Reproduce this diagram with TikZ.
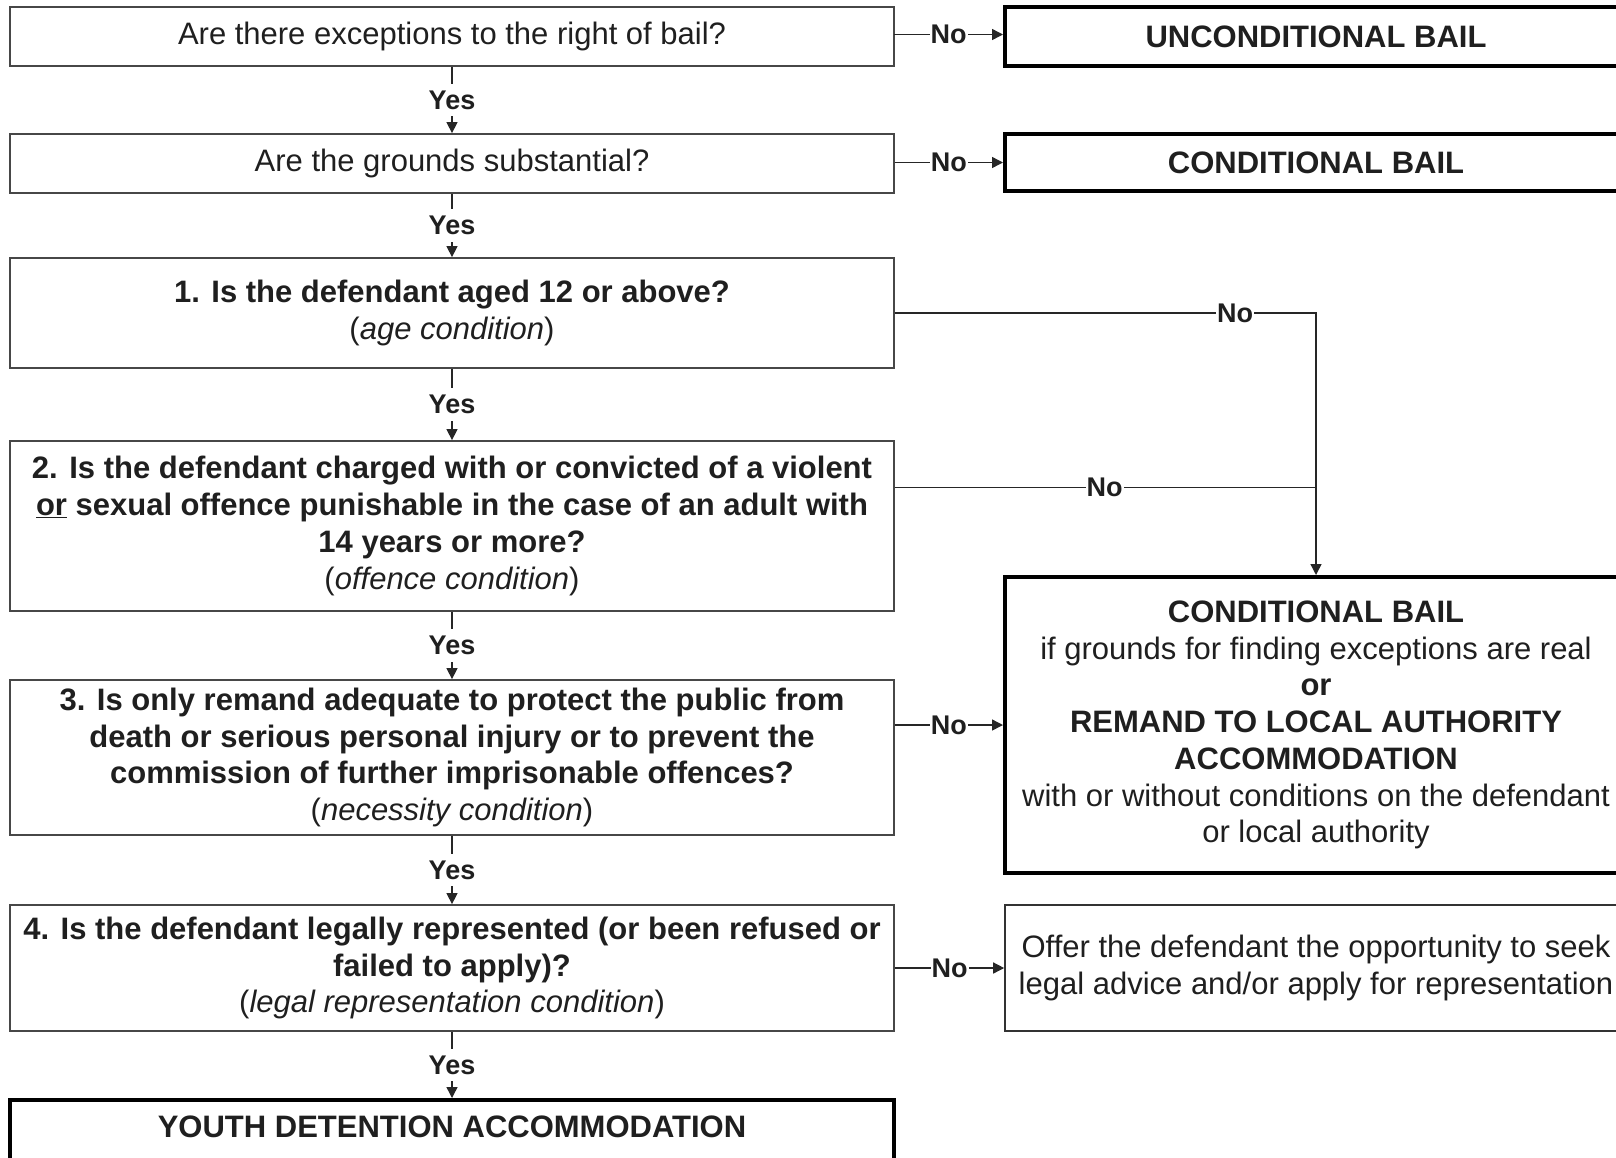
\documentclass[tikz,border=0pt]{standalone}
\usepackage{fontspec}
\setmainfont{Liberation Sans}
\usetikzlibrary{arrows.meta}
\begin{document}
\begin{tikzpicture}[x=1pt,y=-1pt,
  every node/.style={font=\fontsize{31}{36.7}\selectfont, text=black!88},
  qbox/.style={draw=black!72, line width=1.8pt, minimum width=884pt, align=center, inner sep=0pt},
  tbox/.style={draw=black, line width=4pt, minimum width=622pt, align=center, inner sep=0pt, font=\bfseries\fontsize{31}{36.7}\selectfont},
  obox/.style={draw=black!80, line width=1.6pt, minimum width=622pt, align=center, inner sep=0pt},
  conn/.style={draw=black!85, line width=1.4pt},
  arr/.style={conn, -{Triangle[length=11pt,width=11pt]}},
  lbl/.style={fill=white, inner xsep=1pt, inner ysep=1pt, font=\bfseries\fontsize{27}{30}\selectfont},
  ylbl/.style={fill=white, inner xsep=2pt, inner ysep=7pt, font=\bfseries\fontsize{27}{30}\selectfont}
]
\useasboundingbox (0,0) rectangle (1616,1157);

% left column
\node[qbox, minimum height=59pt] (B1) at (452,36.5) {Are there exceptions to the right of bail?};
\node[qbox, minimum height=59pt] (B2) at (452,163.5) {Are the grounds substantial?};
\node[qbox, minimum height=110pt] (B3) at (452,313) {\textbf{1. Is the defendant aged 12 or above?}\\(\textit{age condition})};
\node[qbox, minimum height=170pt] (B4) at (452,526) {\textbf{2. Is the defendant charged with or convicted of a violent}\\\textbf{\underline{or} sexual offence punishable in the case of an adult with}\\\textbf{14 years or more?}\\(\textit{offence condition})};
\node[qbox, minimum height=155pt] (B5) at (452,757.5) {\textbf{3. Is only remand adequate to protect the public from}\\\textbf{death or serious personal injury or to prevent the}\\\textbf{commission of further imprisonable offences?}\\(\textit{necessity condition})};
\node[qbox, minimum height=126pt] (B6) at (452,968) {\textbf{4. Is the defendant legally represented (or been refused or}\\\textbf{failed to apply)?}\\(\textit{legal representation condition})};
\node[draw=black, line width=4pt, minimum width=884pt, inner sep=0pt, text height=37pt, text depth=28pt, anchor=base, font=\bfseries\fontsize{31}{36.7}\selectfont] (B7) at (452,1137) {YOUTH DETENTION ACCOMMODATION};

% right column
\node[tbox, minimum height=59pt] (R1) at (1316,36.5) {UNCONDITIONAL BAIL};
\node[tbox, minimum height=57pt] (R2) at (1316,162.5) {CONDITIONAL BAIL};
\node[tbox, minimum height=296pt] (R3) at (1316,725) {CONDITIONAL BAIL\\\mdseries if grounds for finding exceptions are real\\or\\REMAND TO LOCAL AUTHORITY\\ACCOMMODATION\\\mdseries with or without conditions on the defendant\\\mdseries or local authority};
\node[obox, minimum height=126pt] (R4) at (1316,968) {Offer the defendant the opportunity to seek\\legal advice and/or apply for representation};

% yes connectors
\draw[arr] (B1.south) -- node[ylbl]{Yes} (B2.north);
\draw[arr] (B2.south) -- node[ylbl]{Yes} (B3.north);
\draw[arr] (B3.south) -- node[ylbl]{Yes} (B4.north);
\draw[arr] (B4.south) -- node[ylbl]{Yes} (B5.north);
\draw[arr] (B5.south) -- node[ylbl]{Yes} (B6.north);
\draw[arr] (B6.south) -- node[ylbl]{Yes} (B7.north);

% no connectors
\coordinate (N1) at (894,34.5);
\draw[arr] (N1) -- node[lbl]{No} (N1 -| R1.west);
\draw[arr] (B2.east |- R2.west) -- node[lbl]{No} (R2.west);
\draw[arr] (B3.east) -- node[lbl,pos=0.808]{No} (R3.north |- B3.east) -- (R3.north);
\coordinate (J2) at (1316,487.5);
\draw[conn] (B4.east |- J2) -- node[lbl,pos=0.498]{No} (J2);
\draw[arr] (B5.east |- R3.west) -- node[lbl]{No} (R3.west);
\draw[arr] (B6.east) -- node[lbl]{No} (R4.west);
\end{tikzpicture}
\end{document}
